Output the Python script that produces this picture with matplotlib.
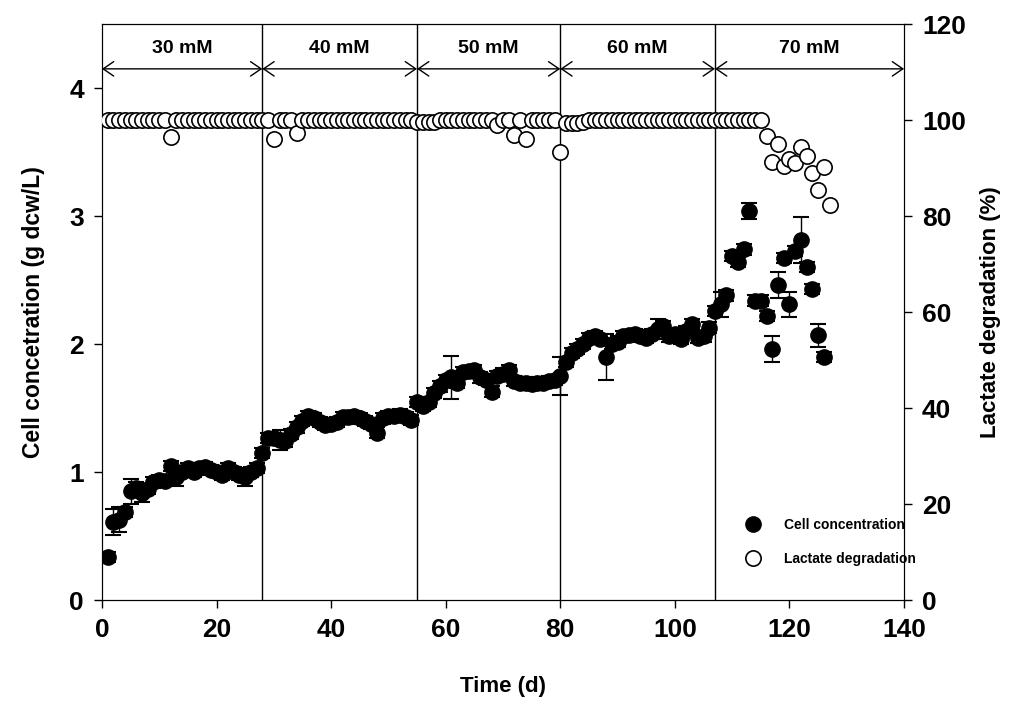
import numpy as np
import matplotlib.pyplot as plt

plt.rcParams['font.family'] = ['Liberation Sans', 'DejaVu Sans']
plt.rcParams['font.weight'] = 'bold'

# cell concentration (g dcw/L), one point per day
cell_days = list(range(1, 127))
cell_conc = [0.34, 0.61, 0.63, 0.69, 0.85, 0.88, 0.84, 0.87, 0.92, 0.94,
             0.93, 1.05, 0.96, 1.00, 1.03, 1.00, 1.03, 1.04, 1.02, 1.00,
             0.98, 1.03, 1.00, 0.98, 0.96, 1.00, 1.03, 1.15, 1.27, 1.27,
             1.25, 1.24, 1.30, 1.35, 1.40, 1.44, 1.42, 1.39, 1.37, 1.38,
             1.39, 1.43, 1.43, 1.44, 1.42, 1.40, 1.38, 1.31, 1.42, 1.44,
             1.44, 1.45, 1.43, 1.41, 1.55, 1.52, 1.55, 1.62, 1.67, 1.72,
             1.74, 1.70, 1.78, 1.79, 1.80, 1.74, 1.72, 1.63, 1.75, 1.77,
             1.80, 1.71, 1.70, 1.70, 1.69, 1.70, 1.70, 1.71, 1.72, 1.75,
             1.86, 1.93, 1.96, 2.00, 2.05, 2.06, 2.04, 1.90, 2.00, 2.02,
             2.06, 2.07, 2.08, 2.06, 2.05, 2.08, 2.12, 2.14, 2.06, 2.08,
             2.04, 2.10, 2.16, 2.05, 2.06, 2.13, 2.26, 2.31, 2.38, 2.69,
             2.64, 2.74, 3.04, 2.34, 2.34, 2.22, 1.96, 2.46, 2.67, 2.31,
             2.73, 2.81, 2.60, 2.43, 2.07, 1.90]
cell_err = [0.04] * len(cell_days)
big_err = {2: 0.10, 3: 0.10, 5: 0.10, 7: 0.07, 13: 0.07, 25: 0.07, 31: 0.08,
           61: 0.17, 80: 0.15, 88: 0.18, 97: 0.08, 108: 0.10, 113: 0.06,
           117: 0.10, 118: 0.10, 120: 0.10, 122: 0.18, 125: 0.09}
for d, e in big_err.items():
    cell_err[d - 1] = e

# lactate degradation (%), one point per day
lac_days = list(range(1, 128))
lac_deg = [100.0] * len(lac_days)
dips = {12: 96.5, 30: 96.0, 34: 97.3, 55: 99.5, 56: 99.5, 57: 99.6, 58: 99.7,
        69: 99.0, 72: 96.9, 74: 96.0, 80: 93.3, 81: 99.3, 82: 99.3, 83: 99.4,
        84: 99.6, 116: 96.6, 117: 91.3, 118: 95.0, 119: 90.4, 120: 91.9,
        121: 91.1, 122: 94.4, 123: 92.5, 124: 89.0, 125: 85.4, 126: 90.2,
        127: 82.3}
for d, v in dips.items():
    lac_deg[d - 1] = v

# feed concentration phases
phase_edges = [0, 28, 55, 80, 107, 140]
phase_labels = ['30 mM', '40 mM', '50 mM', '60 mM', '70 mM']

fig = plt.figure(figsize=(10.09, 7.07), dpi=100)
ax = fig.add_axes([0.101, 0.151, 0.795, 0.815])
ax2 = ax.twinx()

ax.errorbar(cell_days, cell_conc, yerr=cell_err, fmt='o', color='black',
            markersize=11, elinewidth=1, capsize=6, capthick=1.5, zorder=3)
ax2.plot(lac_days, lac_deg, 'o', markerfacecolor='white', markeredgecolor='black',
         markersize=11, markeredgewidth=1.2, zorder=3)

for x in phase_edges[1:-1]:
    ax.axvline(x, color='black', lw=1, zorder=1)

for i, lab in enumerate(phase_labels):
    a, b = phase_edges[i], phase_edges[i + 1]
    ax.annotate('', xy=(a, 4.15), xytext=(b, 4.15),
                arrowprops=dict(arrowstyle='<->, head_length=0.38, head_width=0.26',
                                mutation_scale=20, lw=1, color='black',
                                shrinkA=0, shrinkB=0))
    ax.text((a + b) / 2, 4.31, lab, ha='center', va='center', fontsize=14,
            fontweight='bold', family=['Liberation Sans Narrow', 'Liberation Sans'])

ax.set_xlim(0, 140)
ax.set_ylim(0, 4.5)
ax2.set_ylim(0, 120)
ax.set_xticks(range(0, 141, 20))
ax.set_yticks([0, 1, 2, 3, 4])
ax2.set_yticks(range(0, 121, 20))

for a in (ax, ax2):
    a.tick_params(direction='out', length=6, width=1, labelsize=19, pad=7)
    for lbl in a.get_xticklabels() + a.get_yticklabels():
        lbl.set_fontweight('bold')

ax.set_xlabel('Time (d)', fontsize=16, fontweight='bold', labelpad=24)
ax.set_ylabel('Cell concetration (g dcw/L)', fontsize=16.5, fontweight='bold', labelpad=17)
ax2.set_ylabel('Lactate degradation (%)', fontsize=16, fontweight='bold', labelpad=10)

h1 = ax.errorbar([], [], fmt='o', color='black', markersize=11)
h2, = ax2.plot([], [], 'o', markerfacecolor='white', markeredgecolor='black',
               markersize=11, markeredgewidth=1.2)
ax2.legend([h1, h2], ['Cell concentration', 'Lactate degradation'],
           loc='lower left', bbox_to_anchor=(0.788, 0.05), frameon=False,
           fontsize=10, handletextpad=1.2, labelspacing=1.45, borderaxespad=0)

fig.savefig('out.png', dpi=100)
